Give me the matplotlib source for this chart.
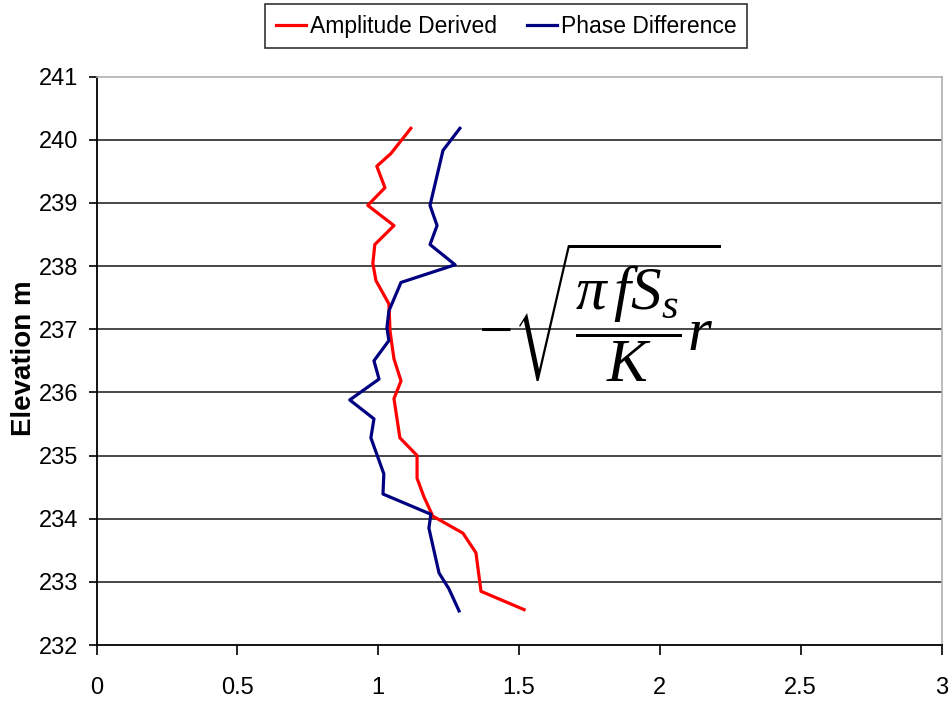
import matplotlib
matplotlib.use("Agg")
import matplotlib.pyplot as plt

plt.rcParams['font.family'] = ['Liberation Sans', 'DejaVu Sans']
plt.rcParams['mathtext.fontset'] = 'custom'
plt.rcParams['mathtext.rm'] = 'Liberation Serif'
plt.rcParams['mathtext.it'] = 'Liberation Serif:italic'
plt.rcParams['mathtext.bf'] = 'Liberation Serif:bold'

# Amplitude Derived series (value, elevation m)
amp_x = [1.116, 1.045, 0.995, 1.024, 0.963, 1.056, 0.988, 0.981, 0.992, 1.038,
         1.042, 1.056, 1.081, 1.056, 1.077, 1.138, 1.138, 1.162, 1.194, 1.301,
         1.347, 1.365, 1.518]
amp_elev = [240.18, 239.78, 239.58, 239.24, 238.96, 238.64, 238.34, 238.04, 237.77, 237.40,
            236.97, 236.53, 236.18, 235.90, 235.28, 235.00, 234.64, 234.35, 234.04, 233.77,
            233.46, 232.85, 232.56]

# Phase Difference series (value, elevation m)
phase_x = [1.290, 1.230, 1.184, 1.209, 1.184, 1.273, 1.081, 1.038, 1.031, 1.038,
           0.985, 1.003, 0.899, 0.985, 0.974, 1.020, 1.017, 1.187, 1.180, 1.216,
           1.251, 1.287]
phase_elev = [240.18, 239.83, 238.96, 238.64, 238.34, 238.02, 237.74, 237.29, 237.02, 236.82,
              236.50, 236.21, 235.88, 235.58, 235.28, 234.71, 234.39, 234.07, 233.85, 233.14,
              232.89, 232.54]

x_ticks = [0, 0.5, 1, 1.5, 2, 2.5, 3]
x_tick_labels = ['0', '0.5', '1', '1.5', '2', '2.5', '3']
y_ticks = [232, 233, 234, 235, 236, 237, 238, 239, 240, 241]

fig = plt.figure(figsize=(9.5, 7.04), dpi=100)
ax = fig.add_axes([0.1016, 0.0838, 0.8895, 0.8075])

l1, = ax.plot(amp_x, amp_elev, color='#ff0000', lw=2.3, label='Amplitude Derived', zorder=3)
l2, = ax.plot(phase_x, phase_elev, color='#000080', lw=2.3, label='Phase Difference', zorder=3)

ax.set_xlim(0, 3)
ax.set_ylim(232, 241)
ax.set_xticks(x_ticks)
ax.set_xticklabels(x_tick_labels)
ax.set_yticks(y_ticks)

for yv in y_ticks[1:-1]:
    ax.axhline(yv, color='#484848', lw=1.4, zorder=1)

for s in ['top', 'right']:
    ax.spines[s].set_color('#b0b0b0')
    ax.spines[s].set_linewidth(1.2)
for s in ['left', 'bottom']:
    ax.spines[s].set_color('black')
    ax.spines[s].set_linewidth(1.3)

ax.tick_params(axis='x', direction='out', length=7, width=1.2, pad=16, labelsize=17)
ax.tick_params(axis='y', direction='out', length=6, width=1.2, pad=7, labelsize=17)

ax.set_ylabel('Elevation m', fontsize=20, fontweight='bold')
ax.yaxis.set_label_coords(-0.071, 0.505)

ax.text(1.785, 237.25, r'$-\sqrt{\dfrac{\pi\, f S_s}{K}r}$', fontsize=44,
        ha='center', va='center', zorder=4)

leg = fig.legend(handles=[l1, l2], loc='center', bbox_to_anchor=(0.533, 0.963),
                 ncol=2, fontsize=16.5, frameon=True, fancybox=False, shadow=False,
                 handlelength=1.3, handletextpad=0.2, columnspacing=1.3,
                 borderpad=0.45, edgecolor='black')
leg.get_frame().set_linewidth(1.2)

fig.savefig('out.png', dpi=100, facecolor='white')
